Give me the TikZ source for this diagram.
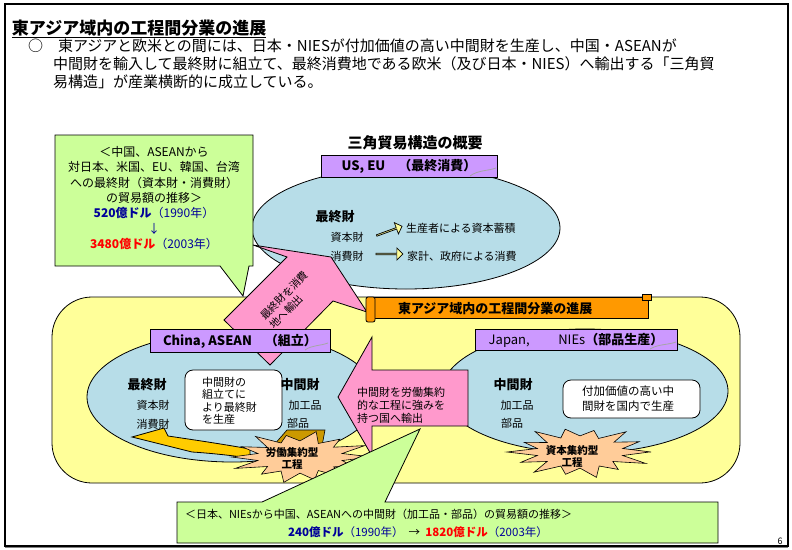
\documentclass[tikz,border=0pt]{standalone}
\usepackage{fontspec}
\setmainfont{Noto Sans CJK JP}
\usetikzlibrary{shapes.arrows}
\definecolor{ellblue}{RGB}{183,221,232}
\definecolor{bgyellow}{RGB}{255,255,153}
\definecolor{cgreen}{RGB}{204,255,153}
\definecolor{cpink}{RGB}{255,153,204}
\definecolor{cpurple}{RGB}{204,153,255}
\definecolor{corange}{RGB}{255,153,0}
\definecolor{cpeach}{RGB}{255,204,153}
\definecolor{cgold}{RGB}{255,204,0}
\definecolor{cdgold}{RGB}{204,153,0}
\definecolor{cnavy}{RGB}{0,0,153}
\definecolor{cred}{RGB}{255,0,0}
\definecolor{paleyellow}{RGB}{255,255,153}
\tikzset{
  txt/.style={font=\fontsize{11}{13}\selectfont},
  hd/.style={font=\fontsize{13}{15}\selectfont\bfseries},
  lab/.style={draw, fill=cpurple, font=\fontsize{13}{15}\selectfont\bfseries},
  ellshape/.style={draw, fill=ellblue, line width=0.8pt},
  whitebox/.style={draw, fill=white, rounded corners=8pt, line width=0.8pt},
  burstshape/.style={draw, fill=cpeach, line width=0.6pt, line join=miter},
  bursttext/.style={font=\fontsize{10.5}{12}\selectfont\bfseries, align=center},
  yarrow/.style={single arrow, draw, fill=paleyellow, minimum height=27pt, minimum width=12pt,
     single arrow head extend=2.5pt, single arrow head indent=0pt, inner sep=0pt, line width=0.7pt},
  body/.style={font=\fontsize{15}{17}\selectfont, anchor=west}
}
\def\burstlist{0/1.0, 13/0.6, 26/0.82, 39/0.6, 52/1.0, 64/0.58, 77/0.9, 90/0.62, 103/1.0, 116/0.6, 129/0.85, 141/0.58, 154/1.0, 167/0.6, 180/0.95, 193/0.6, 206/0.9, 219/0.58, 232/1.0, 244/0.6, 257/0.85, 270/0.62, 283/1.0, 296/0.58, 309/0.88, 321/0.6, 334/1.0, 347/0.6}
\def\burstlistb{0/0.95, 13/0.6, 26/1.0, 39/0.58, 52/0.85, 64/0.6, 77/1.0, 90/0.62, 103/0.88, 116/0.6, 129/1.0, 141/0.58, 154/0.9, 167/0.6, 180/1.0, 193/0.6, 206/0.85, 219/0.58, 232/1.0, 244/0.6, 257/0.9, 270/0.62, 283/0.85, 296/0.58, 309/1.0, 321/0.6, 334/0.9, 347/0.6}
\begin{document}
\begin{tikzpicture}[x=1pt,y=-1pt, every node/.style={inner sep=0pt, outer sep=0pt}]
\useasboundingbox (0,0) rectangle (792,549);
\fill[white] (0,0) rectangle (792,549);
% frame
\draw[line width=1.3pt] (5,4) rectangle (788,546);
\draw[line width=1.5pt, gray] (5,547.5) -- (788,547.5);
% title and body
\node[anchor=west, font=\fontsize{17}{20}\selectfont\bfseries] (title) at (12,29) {\underline{東アジア域内の工程間分業の進展}};
\node[body] (l1) at (28,46) {○　東アジアと欧米との間には、日本・NIESが付加価値の高い中間財を生産し、中国・ASEANが};
\node[body] (l2) at (53,64) {中間財を輸入して最終財に組立て、最終消費地である欧米（及び日本・NIES）へ輸出する「三角貿};
\node[body] (l3) at (53,82) {易構造」が産業横断的に成立している。};
% background yellow
\draw[fill=bgyellow, line width=0.8pt, rounded corners=40pt] (52,297) rectangle (740,483);
% US ellipse
\draw[ellshape] (406,228) ellipse [x radius=154, y radius=61];
\node[font=\fontsize{15}{17}\selectfont\bfseries] (gaiyo) at (415,143) {三角貿易構造の概要};
\node[lab, minimum width=176pt, minimum height=22pt] (uslab) at (409,166) {US, EU　（最終消費）};
\draw[gray!70, line width=0.8pt] (470,176) .. controls (478,170) and (488,171) .. (496,168);
\node[hd] (usfin) at (335,217) {最終財};
\node[txt] (uscap) at (347,237) {資本財};
\node[txt] (uscon) at (347,256) {消費財};
\node[yarrow, rotate=20] (ya1) at (389,231) {};
\node[yarrow] (ya2) at (389,254) {};
\node[txt, anchor=west] (usa) at (406,228) {生産者による資本蓄積};
\node[txt, anchor=west] (usb) at (407,256) {家計、政府による消費};
% top callout
\draw[fill=cgreen, line width=0.8pt] (55,135) -- (253,135) -- (253,266) -- (249,266) -- (243,296) -- (220,266) -- (55,266) -- cycle;
\node[align=center, font=\fontsize{12}{15.3}\selectfont] (call1) at (154,198) {＜中国、ASEANから\\対日本、米国、EU、韓国、台湾\\への最終財（資本財・消費財）\\の貿易額の推移＞\\{\color{cnavy}\textbf{520億ドル}（1990年）}\\{\color{cnavy}↓}\\{\color{cred}\textbf{3480億ドル}}{\color{cnavy}（2003年）}};
% China and Japan ellipses
\draw[ellshape] (232,397) ellipse [x radius=145, y radius=65];
\draw[ellshape] (585,391) ellipse [x radius=143, y radius=62];
% diagonal pink arrow
\draw[fill=cpink, line width=0.8pt] (331,257) -- (367,312) -- (333,301) -- (270,365) -- (224,320) -- (287,257) -- (253,245) -- cycle;
\node[rotate=46, align=left, font=\fontsize{10.5}{13}\selectfont] (pinkd) at (289,300) {最終財を消費\\地へ輸出};
% banner
\draw[fill=corange, line width=0.8pt] (372,297) rectangle (648,318);
\draw[fill=corange, line width=0.8pt, rounded corners=2pt] (366,297) rectangle (375,322);
\draw[fill=corange, line width=0.6pt] (642,294) rectangle (651,300);
\node[anchor=west, font=\fontsize{13}{15}\selectfont\bfseries] (banner) at (398,309) {東アジア域内の工程間分業の進展};
% labels
\node[lab, minimum width=180pt, minimum height=23pt] (cnlab) at (240,341) {China, ASEAN　（組立）};
\draw[gray!70, line width=0.8pt] (305,350) .. controls (312,345) and (320,346) .. (328,343);
\node[lab, minimum width=202pt, minimum height=21pt, font=\fontsize{13}{15}\selectfont] (jplab) at (576,340) {Japan,\hspace{2.2em}NIEs\textbf{（部品生産）}};
\draw[gray!70, line width=0.8pt] (650,349) .. controls (658,344) and (668,345) .. (676,342);
% China inside
\node[hd] (cnfin) at (147,385) {最終財};
\node[txt] (cncap) at (153,405) {資本財};
\node[txt] (cncon) at (153,424) {消費財};
\draw[whitebox] (185,370) rectangle (282,430);
\node[txt, align=left, anchor=west, font=\fontsize{11}{12.5}\selectfont] (cnbox) at (202,401) {中間財の\\組立てに\\より最終財\\を生産};
\node[hd] (cnmid) at (300,385) {中間財};
\node[txt] (cnproc) at (305,405) {加工品};
\node[txt] (cnpart) at (298,423) {部品};
\draw[fill=cgold, line width=0.8pt] (132,437) -- (164,428) -- (168,436) .. controls (195,440) and (222,444) .. (250,449) -- (250,458) .. controls (228,455) and (208,453) .. (192,452) -- cycle;
\draw[fill=cdgold, line width=0.6pt] (273,446) -- (287,430) -- (325,430) -- (322,446) -- cycle;
\draw[burstshape] (372,457) \foreach \a/\f in \burstlist { -- ({300+72*\f*cos(\a)},{457+26*\f*sin(\a)}) } -- cycle;
\node[bursttext] (cnburst) at (292,458) {労働集約型\\工程};
% Japan inside
\node[hd] (jpmid) at (513,385) {中間財};
\node[txt] (jpproc) at (517,405) {加工品};
\node[txt] (jppart) at (512,423) {部品};
\draw[whitebox] (563,380) rectangle (700,418);
\node[txt, align=center, font=\fontsize{11.5}{15}\selectfont] (jpbox) at (628,399) {付加価値の高い中\\間財を国内で生産};
\draw[burstshape] (651,452) \foreach \a/\f in \burstlistb { -- ({580+73*\f*cos(\a)},{452+26*\f*sin(\a)}) } -- cycle;
\node[bursttext] (jpburst) at (572,456) {資本集約型\\工程};
% pink left arrow
\draw[fill=cpink, line width=0.8pt] (338,397) -- (372,337) -- (372,370) -- (468,370) -- (468,426) -- (372,426) -- (372,456) -- cycle;
\node[txt, align=left, anchor=west, font=\fontsize{11}{13}\selectfont] (pinkl) at (357,405) {中間財を労働集約\\的な工程に強みを\\持つ国へ輸出};
% bottom callout
\draw[fill=cgreen, line width=0.8pt] (177,502) -- (262,502) -- (420,429) -- (385,502) -- (718,502) -- (718,543) -- (177,543) -- cycle;
\node[anchor=west, font=\fontsize{11}{13}\selectfont] (bot1) at (185,514) {＜日本、NIEsから中国、ASEANへの中間財（加工品・部品）の貿易額の推移＞};
\node[anchor=west, font=\fontsize{11.5}{13}\selectfont] (bot2) at (288,532) {{\color{cnavy}\textbf{240億ドル}（1990年）}\ \ →\ \ {\color{cred}\textbf{1820億ドル}}{\color{cnavy}（2003年）}};
\node[font=\fontsize{9}{10}\selectfont] (pg) at (780,541) {6};
\end{tikzpicture}
\end{document}
